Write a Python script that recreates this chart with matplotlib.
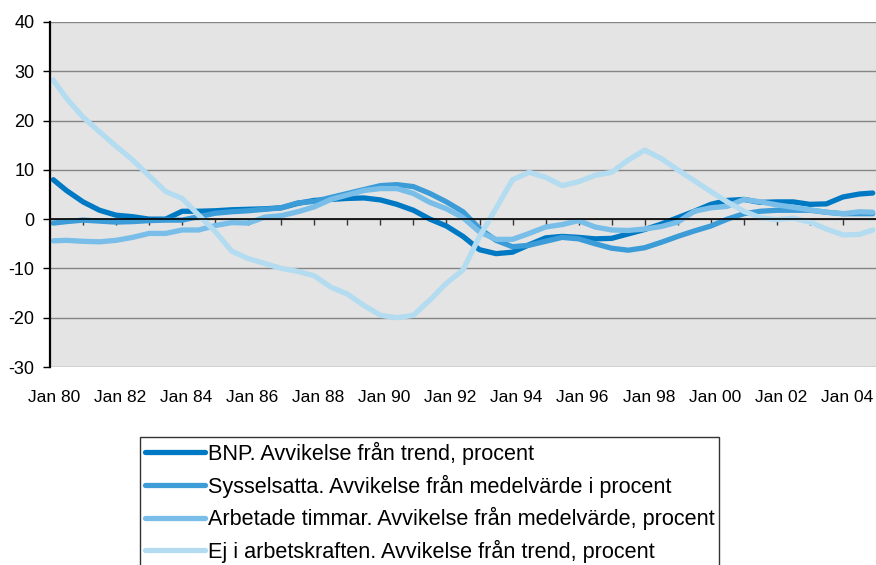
import matplotlib.pyplot as plt
import matplotlib.transforms as mtransforms
import numpy as np

# half-year sample points (decimal years)
years = [1980.1] + [1980.5 + 0.5 * i for i in range(49)] + [2004.9]

bnp = [8.0, 5.8, 3.5, 1.8, 0.8, 0.5, 0.0, 0.0, 1.6, 1.6,
       1.7, 1.9, 2.0, 2.1, 2.3, 3.2, 3.8, 4.0, 4.2, 4.3,
       3.9, 3.0, 1.8, 0.0, -1.4, -3.5, -6.2, -7.0, -6.7, -5.2,
       -3.8, -3.5, -3.7, -4.0, -3.9, -3.0, -2.1, -1.0, 0.3, 1.6,
       3.0, 3.8, 4.0, 3.4, 3.5, 3.5, 3.0, 3.1, 4.5, 5.1,
       5.3]
sysselsatta = [-0.8, -0.5, -0.2, -0.4, -0.6, -0.5, -0.3, -0.2, -0.2, 0.5,
               1.2, 1.5, 1.7, 2.0, 2.3, 3.3, 3.6, 4.4, 5.2, 6.0,
               6.8, 7.0, 6.6, 5.2, 3.5, 1.5, -1.9, -4.3, -5.6, -5.3,
               -4.5, -3.7, -4.0, -5.0, -5.9, -6.3, -5.8, -4.7, -3.5, -2.4,
               -1.4, 0.0, 1.1, 1.6, 1.8, 1.8, 1.8, 1.4, 1.1, 1.1,
               1.1]
timmar = [-4.4, -4.3, -4.5, -4.6, -4.3, -3.7, -2.9, -2.9, -2.2, -2.2,
          -1.3, -0.7, -0.8, 0.4, 0.7, 1.5, 2.5, 4.0, 4.9, 5.8,
          6.2, 6.2, 5.2, 3.4, 2.1, 0.3, -2.6, -4.1, -4.1, -2.9,
          -1.6, -1.1, -0.3, -1.6, -2.2, -2.3, -2.0, -1.5, -0.6, 1.6,
          2.3, 2.6, 4.0, 3.5, 2.9, 2.4, 1.9, 1.4, 1.1, 1.5,
          1.4]
ej_arbetskraft = [28.2, 24.5, 20.7, 17.7, 14.8, 12.0, 8.8, 5.6, 4.2, 0.8,
                  -2.5, -6.5, -8.0, -9.0, -10.0, -10.6, -11.5, -13.8, -15.2, -17.5,
                  -19.5, -20.0, -19.5, -16.4, -13.0, -10.3, -3.5, 2.2, 8.0, 9.5,
                  8.5, 6.8, 7.6, 8.9, 9.5, 12.0, 14.0, 12.3, 10.0, 7.8,
                  5.6, 3.5, 1.6, 0.3, -0.1, 0.2, -0.6, -2.0, -3.2, -3.1,
                  -2.2]

labels = ["BNP. Avvikelse från trend, procent",
          "Sysselsatta. Avvikelse från medelvärde i procent",
          "Arbetade timmar. Avvikelse från medelvärde, procent",
          "Ej i arbetskraften. Avvikelse från trend, procent"]
colors = ["#0079C4", "#3C9CD8", "#78BEE8", "#B4DCF1"]

tick_years = list(range(1980, 2005))
tick_labels = [("Jan %02d" % (y % 100)) if y % 2 == 0 else "" for y in tick_years]

plt.rcParams['font.family'] = ['Liberation Sans', 'DejaVu Sans']
plt.rcParams['axes.unicode_minus'] = False

fig = plt.figure(figsize=(8.76, 5.65), dpi=100)
ax = fig.add_axes([50 / 876, 198 / 565, 826 / 876, 345 / 565])
ax.set_facecolor("#E4E4E4")

for vals, lab, col in zip([bnp, sysselsatta, timmar, ej_arbetskraft], labels, colors):
    ax.plot(years, vals, color=col, lw=3.8, label=lab,
            solid_joinstyle='round', solid_capstyle='round')

ax.set_xlim(1980, 2005)
ax.set_ylim(-30, 40)
ax.set_yticks(range(-30, 41, 10))
ax.yaxis.grid(True, color="#858585", lw=1.0)
ax.set_axisbelow(True)

# x axis sits on the zero line, labels below the plot area
ax.spines['bottom'].set_position(('data', 0))
ax.spines['bottom'].set_color('black')
ax.spines['bottom'].set_linewidth(1.2)
ax.spines['top'].set_visible(False)
ax.spines['right'].set_visible(False)
ax.spines['left'].set_linewidth(1.6)

ax.set_xticks(tick_years)
ax.set_xticklabels(tick_labels)
ax.tick_params(axis='x', direction='out', length=4, width=1, color='#333333',
               pad=119, labelsize=12.5)
ax.tick_params(axis='y', direction='out', length=5, width=1, labelsize=13, pad=6)

shift = mtransforms.ScaledTranslation(4 / 100, 0, fig.dpi_scale_trans)
for lbl in ax.get_xticklabels():
    lbl.set_transform(lbl.get_transform() + shift)

leg = fig.legend(loc='upper left', bbox_to_anchor=(140 / 876, 1 - 437 / 565),
                 fontsize=15.6, frameon=True, fancybox=False, handlelength=2.8,
                 handletextpad=0.1, labelspacing=0.44, borderpad=0.22,
                 borderaxespad=0, edgecolor='black')
leg.get_frame().set_linewidth(1.0)
for h in leg.get_lines():
    h.set_linewidth(3.8)

fig.savefig("out.png", dpi=100)
